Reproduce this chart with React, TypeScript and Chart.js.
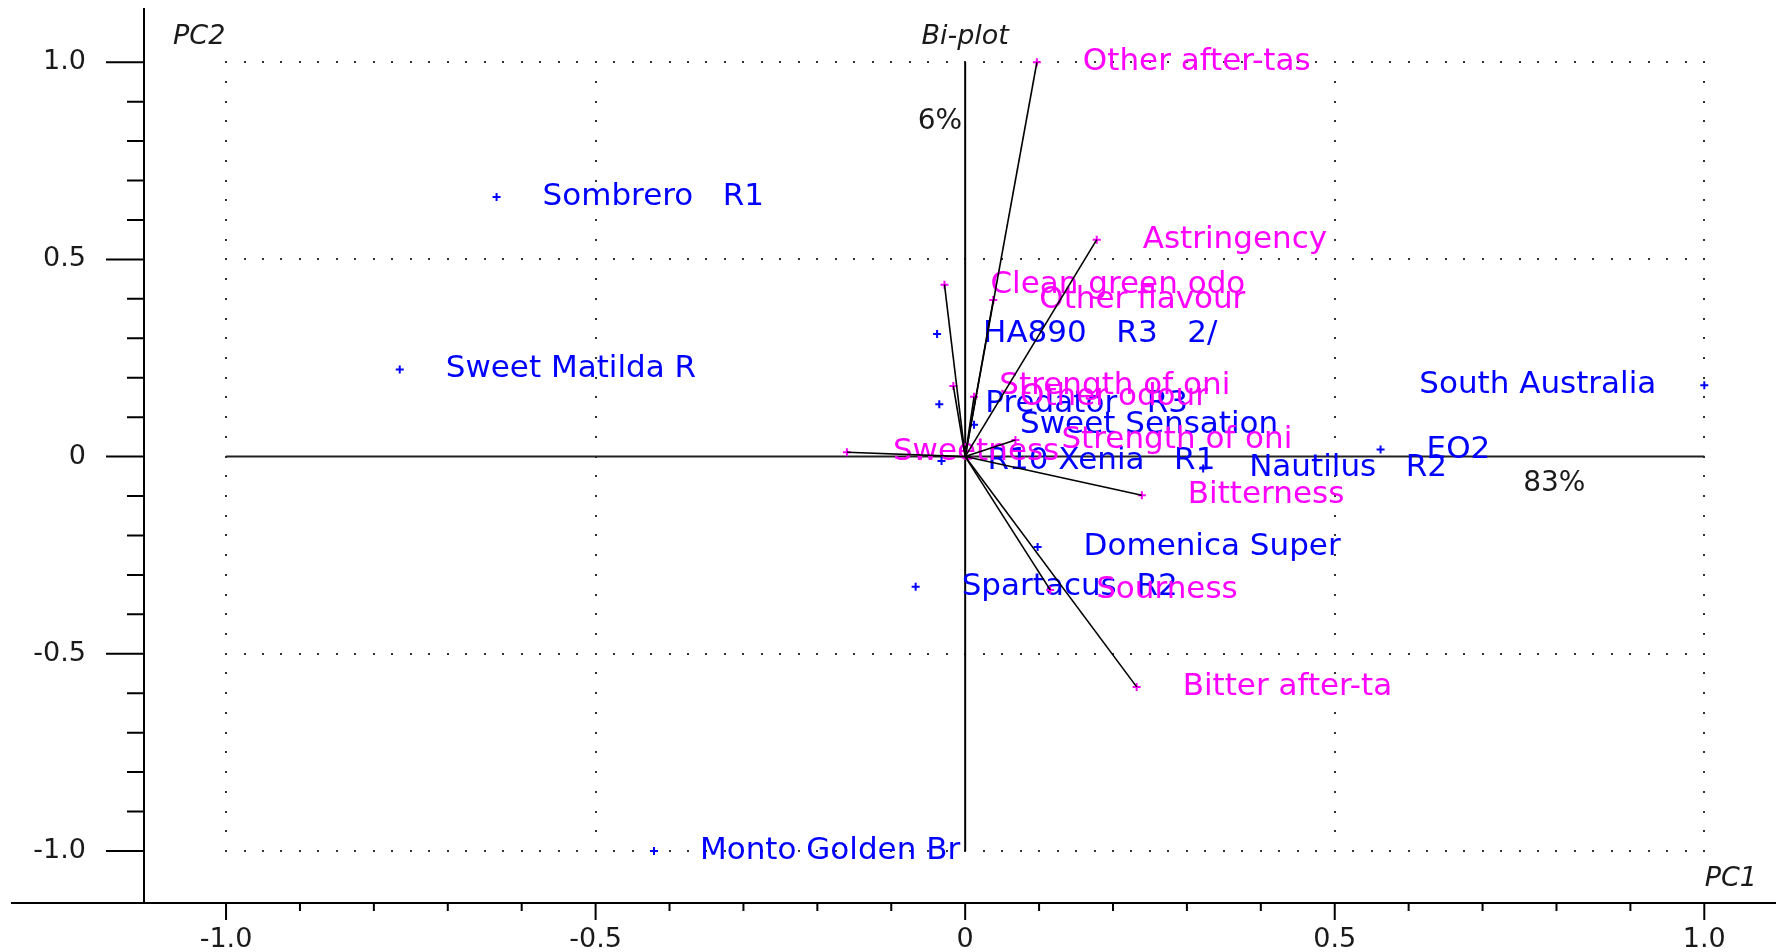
import React, { useEffect, useRef } from "react";
import { Chart, registerables } from "chart.js";

Chart.register(...registerables);

// ---------- data ----------
const objectNames = [
  "Sombrero   R1",
  "Sweet Matilda R",
  "HA890   R3   2/",
  "Predator   R3",
  "Sweet Sensation",
  "R10 Xenia   R1",
  "Nautilus   R2",
  "EO2",
  "South Australia",
  "Domenica Super",
  "Spartacus  R2",
  "Monto Golden Br",
];
const objectPC1 = [-0.634, -0.765, -0.038, -0.035, 0.012, -0.032, 0.322, 0.562, 1.0, 0.098, -0.067, -0.421];
const objectPC2 = [0.658, 0.221, 0.311, 0.133, 0.081, -0.011, -0.03, 0.018, 0.181, -0.229, -0.33, -1.0];

const variableNames = [
  "Other after-tas",
  "Astringency",
  "Clean green odo",
  "Other flavour",
  "Strength of oni",
  "Other odour",
  "Strength of oni",
  "Sweetness",
  "Bitterness",
  "Sourness",
  "Bitter after-ta",
];
const variablePC1 = [0.097, 0.178, -0.028, 0.038, -0.016, 0.012, 0.068, -0.16, 0.239, 0.115, 0.232];
const variablePC2 = [1.0, 0.55, 0.436, 0.397, 0.179, 0.152, 0.042, 0.011, -0.098, -0.338, -0.584];

const tickValues = [-1.0, -0.9, -0.8, -0.7, -0.6, -0.5, -0.4, -0.3, -0.2, -0.1, 0, 0.1, 0.2, 0.3, 0.4, 0.5, 0.6, 0.7, 0.8, 0.9, 1.0];
const majorTickValues = [-1.0, -0.5, 0, 0.5, 1.0];
const majorTickLabels = ["-1.0", "-0.5", "0", "0.5", "1.0"];
const dottedGridValues = [-1.0, -0.5, 0.5, 1.0];

const explainedPC1 = "83%";
const explainedPC2 = "6%";
const titleText = "Bi-plot";
const xAxisName = "PC1";
const yAxisName = "PC2";

// ---------- styles ----------
const BLUE = "#0000ff";
const MAGENTA = "#ff00ff";
const INK = "#1a1a1a";
const LABEL_FONT = '31px "DejaVu Sans"';
const TICK_FONT_FAMILY = "DejaVu Sans";

const isMajor = (v: number) => majorTickValues.some((m) => Math.abs(m - v) < 1e-9);

const biplotPlugin = {
  id: "biplotDecor",
  beforeDatasetsDraw(chart: any) {
    const { ctx, chartArea } = chart;
    const xs = chart.scales.x;
    const ys = chart.scales.y;
    const X = (v: number) => xs.getPixelForValue(v);
    const Y = (v: number) => ys.getPixelForValue(v);
    ctx.save();

    // dotted grid (only inside [-1,1] square)
    ctx.fillStyle = "#333";
    for (const g of dottedGridValues) {
      const py = Y(g);
      for (let i = 0; i <= 80; i++) {
        const px = X(-1 + i * 0.025);
        ctx.fillRect(Math.round(px) - 1, Math.round(py) - 1, 2, 2);
      }
      const px2 = X(g);
      for (let i = 0; i <= 40; i++) {
        const py2 = Y(-1 + i * 0.05);
        ctx.fillRect(Math.round(px2) - 1, Math.round(py2) - 1, 2, 2);
      }
    }

    // solid zero lines
    ctx.strokeStyle = "#222";
    ctx.lineWidth = 2;
    ctx.beginPath();
    ctx.moveTo(X(-1), Y(0));
    ctx.lineTo(X(1), Y(0));
    ctx.stroke();
    ctx.strokeStyle = "#000";
    ctx.beginPath();
    ctx.moveTo(X(0), Y(1));
    ctx.lineTo(X(0), Y(-1));
    ctx.stroke();

    // x axis line extension to the left of the y axis
    ctx.strokeStyle = "#000";
    ctx.lineWidth = 2;
    ctx.beginPath();
    ctx.moveTo(11, chartArea.bottom);
    ctx.lineTo(chart.width, chartArea.bottom);
    ctx.stroke();

    // tick marks
    ctx.beginPath();
    for (const v of tickValues) {
      const px = X(v);
      const lenX = isMajor(v) ? 17 : 8;
      ctx.moveTo(px, chartArea.bottom);
      ctx.lineTo(px, chartArea.bottom + lenX);
      const py = Y(v);
      const lenY = isMajor(v) ? 38 : 17;
      ctx.moveTo(chartArea.left, py);
      ctx.lineTo(chartArea.left - lenY, py);
    }
    ctx.stroke();

    // point labels
    ctx.font = LABEL_FONT;
    ctx.textBaseline = "middle";
    const drawLabel = (text: string, vx: number, vy: number, color: string) => {
      const px = X(vx);
      const py = Y(vy);
      const w = ctx.measureText(text).width;
      ctx.fillStyle = color;
      if (px + 46 + w > chartArea.right - 10) {
        ctx.textAlign = "right";
        ctx.fillText(text, px - 48, py);
      } else {
        ctx.textAlign = "left";
        ctx.fillText(text, px + 46, py);
      }
    };
    objectNames.forEach((n, i) => drawLabel(n, objectPC1[i], objectPC2[i], BLUE));
    variableNames.forEach((n, i) => drawLabel(n, variablePC1[i], variablePC2[i], MAGENTA));

    // annotations
    ctx.fillStyle = INK;
    ctx.font = `28px "${TICK_FONT_FAMILY}"`;
    ctx.textAlign = "right";
    ctx.fillText(explainedPC2, X(0) - 3, Y(0.85));
    ctx.textAlign = "center";
    ctx.fillText(explainedPC1, X(0.797), Y(-0.07));

    ctx.font = `italic 27px "${TICK_FONT_FAMILY}"`;
    ctx.textAlign = "center";
    ctx.fillText(titleText, X(0), chartArea.top + 28);
    ctx.textAlign = "left";
    ctx.fillText(yAxisName, chartArea.left + 29, chartArea.top + 28);
    ctx.textAlign = "right";
    ctx.fillText(xAxisName, chartArea.right - 19, chartArea.bottom - 24);

    ctx.restore();
  },
};

export default function App() {
  const canvasRef = useRef<HTMLCanvasElement | null>(null);

  useEffect(() => {
    const canvas = canvasRef.current;
    if (!canvas) return;

    const vectorSets = variableNames.map((n, i) => ({
      label: "vec-" + n + i,
      data: [
        { x: 0, y: 0 },
        { x: variablePC1[i], y: variablePC2[i] },
      ],
      showLine: true,
      borderColor: "#000",
      borderWidth: 1.6,
      pointRadius: 0,
      fill: false,
    }));

    const tickLabel = (v: number) => {
      const idx = majorTickValues.findIndex((m) => Math.abs(m - v) < 1e-9);
      return idx >= 0 ? majorTickLabels[idx] : "";
    };
    const setTicks = (scale: any) => {
      scale.ticks = tickValues.map((v) => ({ value: v }));
    };

    const chart = new Chart(canvas, {
      type: "scatter",
      data: {
        datasets: [
          ...vectorSets,
          {
            label: "variables",
            data: variablePC1.map((x, i) => ({ x, y: variablePC2[i] })),
            pointStyle: "cross",
            pointRadius: 4,
            borderColor: MAGENTA,
            backgroundColor: MAGENTA,
            borderWidth: 2,
          },
          {
            label: "objects",
            data: objectPC1.map((x, i) => ({ x, y: objectPC2[i] })),
            pointStyle: "cross",
            pointRadius: 4,
            borderColor: BLUE,
            backgroundColor: BLUE,
            borderWidth: 2,
          },
        ] as any,
      },
      options: {
        animation: false,
        responsive: false,
        devicePixelRatio: 1,
        layout: { autoPadding: false, padding: { top: 9, left: 0, right: 0, bottom: 0 } },
        plugins: {
          legend: { display: false },
          tooltip: { enabled: false },
        },
        scales: {
          x: {
            type: "linear",
            min: -1.111,
            max: 1.097,
            afterBuildTicks: setTicks,
            afterFit: (s: any) => {
              s.height = 49;
              s.paddingLeft = 0;
              s.paddingRight = 0;
            },
            grid: { display: false, drawTicks: false },
            border: { display: true, color: "#000", width: 2 },
            ticks: {
              autoSkip: false,
              maxRotation: 0,
              padding: 21,
              color: INK,
              font: { family: TICK_FONT_FAMILY, size: 27 },
              callback: (v: any) => tickLabel(Number(v)),
            },
          },
          y: {
            type: "linear",
            min: -1.132,
            max: 1.135,
            afterBuildTicks: setTicks,
            afterFit: (s: any) => {
              s.width = 144;
              s.paddingTop = 0;
              s.paddingBottom = 0;
            },
            grid: { display: false, drawTicks: false },
            border: { display: true, color: "#000", width: 2 },
            ticks: {
              autoSkip: false,
              padding: 58,
              color: INK,
              font: { family: TICK_FONT_FAMILY, size: 27 },
              callback: (v: any) => tickLabel(Number(v)),
            },
          },
        },
      } as any,
      plugins: [biplotPlugin],
    });

    return () => chart.destroy();
  }, []);

  return (
    <div style={{ position: "fixed", left: 0, top: 0, width: 1776, height: 952, background: "#fff" }}>
      <canvas ref={canvasRef} width={1776} height={952} style={{ display: "block" }} />
    </div>
  );
}
